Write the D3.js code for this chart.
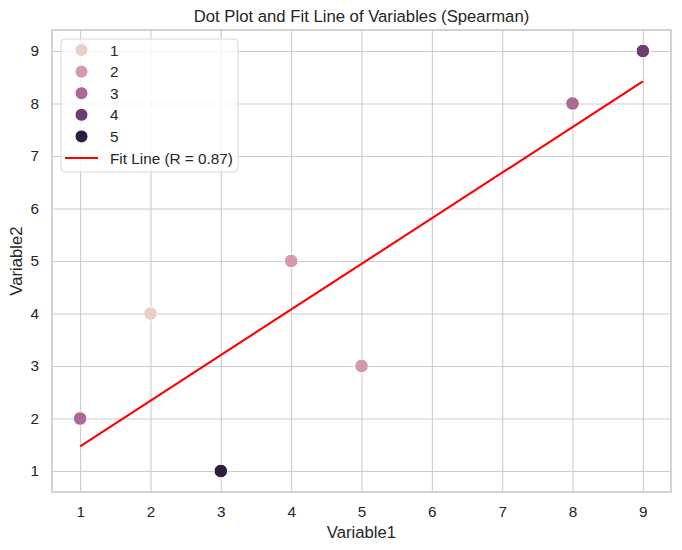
<!DOCTYPE html>
<html>
<head>
<meta charset="utf-8">
<script src="https://cdn.jsdelivr.net/npm/d3@7"></script>
<style>
  body { margin: 0; background: #fff; }
  text { font-family: "Liberation Sans", Arial, sans-serif; fill: #262626; }
</style>
</head>
<body>
<div id="chart"></div>
<script>
// data
var xValues = [1, 2, 3, 4, 5, 8, 9];
var yValues = [2, 4, 1, 5, 3, 8, 9];
var hueValues = [3, 1, 5, 2, 2, 3, 4];
var hueLevels = [1, 2, 3, 4, 5];
var hueColors = ["#ebcfc6", "#d49aab", "#aa6a91", "#6b3d71", "#2c1e3d"];
var fitX = [1, 9];
var fitY = [1.47, 8.42];
var fitLabel = "Fit Line (R = 0.87)";
var ticks = [1, 2, 3, 4, 5, 6, 7, 8, 9];

var width = 682, height = 550,
    margin = { top: 30, right: 11, bottom: 58, left: 52 },
    w = width - margin.left - margin.right,
    h = height - margin.top - margin.bottom;

var svg = d3.select("#chart").append("svg")
    .attr("width", width)
    .attr("height", height);

var x = d3.scaleLinear().domain([0.6, 9.4]).range([0, w]);
var y = d3.scaleLinear().domain([0.6, 9.4]).range([h, 0]);
var color = d3.scaleOrdinal().domain(hueLevels).range(hueColors);

var g = svg.append("g")
    .attr("transform", "translate(" + margin.left + "," + margin.top + ")");

// grid
g.append("g")
    .attr("transform", "translate(0," + h + ")")
    .call(d3.axisBottom(x).tickValues(ticks).tickSize(-h).tickPadding(14).tickFormat(d3.format("d")))
    .call(function (s) {
        s.select(".domain").remove();
        s.selectAll("line").attr("stroke", "#cccccc").attr("stroke-width", 1.1);
        s.selectAll("text").attr("font-size", "15.3px").attr("fill", "#262626")
            .attr("font-family", "Liberation Sans, Arial, sans-serif");
    });
g.append("g")
    .call(d3.axisLeft(y).tickValues(ticks).tickSize(-w).tickPadding(13).tickFormat(d3.format("d")))
    .call(function (s) {
        s.select(".domain").remove();
        s.selectAll("line").attr("stroke", "#cccccc").attr("stroke-width", 1.1);
        s.selectAll("text").attr("font-size", "15.3px").attr("fill", "#262626")
            .attr("font-family", "Liberation Sans, Arial, sans-serif");
    });

// frame
g.append("rect")
    .attr("width", w).attr("height", h)
    .attr("fill", "none")
    .attr("stroke", "#cccccc")
    .attr("stroke-width", 1.7);

// points
var pts = xValues.map(function (d, i) { return { x: d, y: yValues[i], hue: hueValues[i] }; });
g.selectAll("circle.dot").data(pts).enter().append("circle")
    .attr("class", "dot")
    .attr("cx", function (d) { return x(d.x); })
    .attr("cy", function (d) { return y(d.y); })
    .attr("r", 6.8)
    .attr("fill", function (d) { return color(d.hue); })
    .attr("stroke", "#fff")
    .attr("stroke-width", 1);

// fit line
var line = d3.line().x(function (d) { return x(d[0]); }).y(function (d) { return y(d[1]); });
g.append("path")
    .datum(fitX.map(function (d, i) { return [d, fitY[i]]; }))
    .attr("d", line)
    .attr("fill", "none")
    .attr("stroke", "red")
    .attr("stroke-width", 2.1);

// title and labels
svg.append("text")
    .attr("x", margin.left + w / 2).attr("y", 22)
    .attr("text-anchor", "middle")
    .attr("font-size", "16.7px")
    .text("Dot Plot and Fit Line of Variables (Spearman)");
svg.append("text")
    .attr("x", margin.left + w / 2).attr("y", 538)
    .attr("text-anchor", "middle")
    .attr("font-size", "16.7px")
    .text("Variable1");
svg.append("text")
    .attr("transform", "translate(22," + (margin.top + h / 2) + ") rotate(-90)")
    .attr("text-anchor", "middle")
    .attr("font-size", "16.7px")
    .text("Variable2");

// legend
var lg = svg.append("g").attr("transform", "translate(61,39)");
lg.append("rect")
    .attr("width", 177).attr("height", 133)
    .attr("rx", 4)
    .attr("fill", "#fff").attr("fill-opacity", 0.8)
    .attr("stroke", "#d6d6d6");
var rowH = 21.6;
hueLevels.forEach(function (d, i) {
    var cy = 11 + i * rowH;
    lg.append("circle")
        .attr("cx", 20.5).attr("cy", cy).attr("r", 6.5)
        .attr("fill", color(d)).attr("stroke", "#fff").attr("stroke-width", 1);
    lg.append("text")
        .attr("x", 49).attr("y", cy).attr("dy", "0.36em")
        .attr("font-size", "15.3px")
        .text(d);
});
var ly = 11 + hueLevels.length * rowH;
lg.append("line")
    .attr("x1", 4).attr("x2", 37).attr("y1", ly).attr("y2", ly)
    .attr("stroke", "red").attr("stroke-width", 2.1);
lg.append("text")
    .attr("x", 49).attr("y", ly).attr("dy", "0.36em")
    .attr("font-size", "15.3px")
    .text(fitLabel);
</script>
</body>
</html>
